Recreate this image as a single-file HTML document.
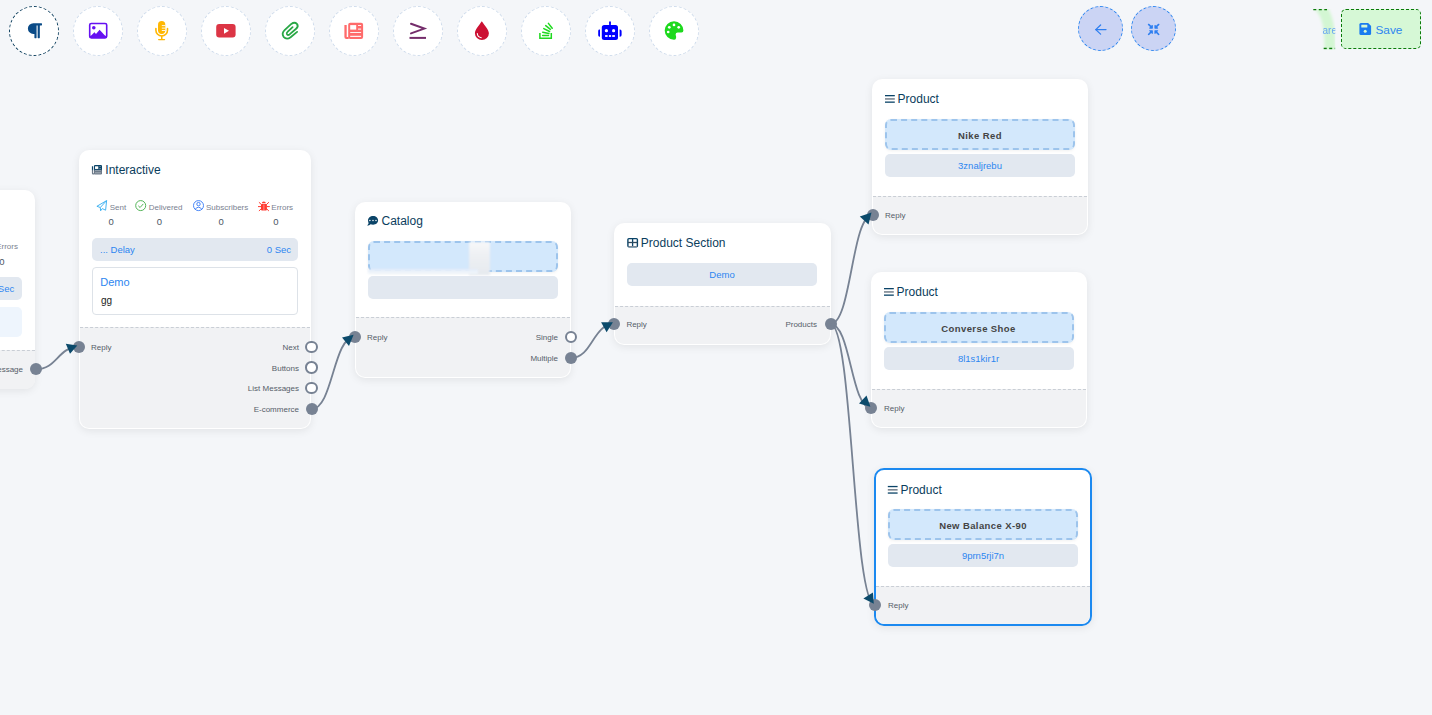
<!DOCTYPE html>
<html><head><meta charset="utf-8">
<style>
*{box-sizing:border-box;margin:0;padding:0}
html,body{width:1432px;height:715px;overflow:hidden;background:#f4f6f9;font-family:"Liberation Sans",sans-serif;position:relative}
.tb{position:absolute;top:6px;width:50px;height:50px;border-radius:50%;background:#fff;border:1px dashed #cfdcec}
.tb.act{border-color:#0b3d5c}
.cbtn{position:absolute;top:6px;width:45px;height:45px;border-radius:50%;background:#cbd4f4;border:1.5px dashed #2d86f0}
.save{position:absolute;left:1341px;top:9px;width:80px;height:40px;border:1.5px dashed #0a7a0a;border-radius:5px;background:#d6f8d6;color:#2d86f0;font-size:11.8px}
.save span{position:absolute;left:33.5px;top:12.5px;line-height:14px}
.node{position:absolute;background:#fff;border-radius:10px;box-shadow:0 2px 8px rgba(0,0,0,.08)}
.node .bot{position:absolute;left:0;right:0;bottom:0;background:#f1f2f4;border-top:1px dashed #c9ced5;border-radius:0 0 9px 9px}
.title{position:absolute;font-size:12px;color:#0b3d5c;white-space:nowrap;line-height:14px}
.pin{position:absolute;width:12px;height:12px;border-radius:50%;background:#778293;margin:-6px 0 0 -6px}
.pin.o{background:#fff;border:2px solid #778293;width:12.5px;height:12.5px;margin:-6.25px 0 0 -6.25px}
.lbl{position:absolute;font-size:8px;color:#555d68;white-space:nowrap;line-height:10px;margin-top:-4.2px}
.lbl.r{transform:translateX(-100%)}
.bar{position:absolute;background:#e2e8f0;border-radius:5px;color:#2d86f0;font-size:9.5px;display:flex;align-items:center;justify-content:center}
.pbox{position:absolute;background:#d3e8fc;border:2px dashed #9dc4ec;border-radius:6px;color:#444;font-size:9.5px;font-weight:bold;display:flex;align-items:center;justify-content:center;letter-spacing:.4px;padding-top:1px;box-shadow:0 1px 3px rgba(0,0,0,.06)}
.st{position:absolute;top:203px;font-size:8px;color:#7a8190;white-space:nowrap;line-height:9px}
.sv{position:absolute;top:216px;font-size:9.5px;color:#4b5563;width:20px;margin-left:-10px;text-align:center;line-height:11px}
svg.wires{position:absolute;left:0;top:0;pointer-events:none;overflow:visible}
</style></head><body>

<div class="tb act" style="left:9px"></div>
<div class="tb" style="left:73px"></div>
<div class="tb" style="left:137px"></div>
<div class="tb" style="left:201px"></div>
<div class="tb" style="left:265px"></div>
<div class="tb" style="left:329px"></div>
<div class="tb" style="left:393px"></div>
<div class="tb" style="left:457px"></div>
<div class="tb" style="left:521px"></div>
<div class="tb" style="left:585px"></div>
<div class="tb" style="left:649px"></div>

<div class="cbtn" style="left:1078px"></div>
<div class="cbtn" style="left:1131px"></div>
<svg style="position:absolute;left:1310px;top:5px" width="28" height="48" viewBox="1310 5 28 48">
<defs><filter id="bl" x="-50%" y="-50%" width="200%" height="200%"><feGaussianBlur stdDeviation="1.6"/></filter><clipPath id="cl"><rect x="1313" y="9" width="22.3" height="40.5"/></clipPath></defs>
<g clip-path="url(#cl)">
<path d="M1319 6 Q1331 16 1329.8 52" fill="none" stroke="#d3f6d3" stroke-width="11" filter="url(#bl)"/>
<line x1="1313.3" y1="9.6" x2="1327" y2="9.6" stroke="#0a7a0a" stroke-width="1.5" stroke-dasharray="3 2.5"/>
<line x1="1323.7" y1="48.6" x2="1335.3" y2="48.6" stroke="#0a7a0a" stroke-width="1.5" stroke-dasharray="3 2.5"/>
<text x="1322.5" y="34" font-family="Liberation Sans" font-size="10" fill="#5b9df5" opacity="0.9">are</text>
</g></svg>
<div class="save"><span>Save</span></div>

<!-- nodes -->
<div class="node" style="left:-200px;top:190px;width:235px;height:199px">
  <div class="bot" style="height:39px"></div>
  <div style="position:absolute;left:196.2px;top:52px;font-size:8px;color:#7a8190;line-height:9px">Errors</div>
  <div style="position:absolute;left:199.3px;top:66px;font-size:9.5px;color:#4b5563;line-height:11px">0</div>
  <div class="bar" style="left:143px;top:87px;width:78.5px;height:23px;justify-content:flex-end;padding-right:7.3px">0 Sec</div>
  <div style="position:absolute;left:143px;top:117px;width:79px;height:30px;background:#eef5fd;border-radius:5px"></div>
</div>

<div class="node" style="left:78.5px;top:149.5px;width:232px;height:279.5px;border:1px solid rgba(255,255,255,.5)">
  <div class="bot" style="height:101px"></div>
  <div class="title" style="left:25.8px;top:12.2px">Interactive</div>
  <div class="bar" style="left:12.5px;top:87.5px;width:206px;height:22.5px;justify-content:space-between;padding:0 7px 0 8px"><span>... Delay</span><span>0 Sec</span></div>
  <div style="position:absolute;left:12.5px;top:116.5px;width:206px;height:47.5px;border:1px solid #dde2e8;border-radius:4px">
    <div style="position:absolute;left:7.2px;top:8px;font-size:11px;color:#2d86f0;line-height:13px">Demo</div>
    <div style="position:absolute;left:8px;top:27px;font-size:10px;color:#222;line-height:12px">gg</div>
  </div>
</div>

<div class="node" style="left:354.5px;top:201.5px;width:216px;height:176px;border:1px solid rgba(255,255,255,.5)">
  <div class="bot" style="height:59.2px"></div>
  <div class="title" style="left:26px;top:11.6px">Catalog</div>
  <div class="pbox" style="left:12px;top:38.5px;width:190px;height:31px;border-style:dashed"></div>
  <div class="bar" style="left:12px;top:73.5px;width:190px;height:23px"></div>
  <div style="position:absolute;left:113px;top:39px;width:21px;height:33px;background:linear-gradient(#f7f8f9,#eef0f3 40%,#e6eaef);filter:blur(1.2px)"></div>
  <div style="position:absolute;left:12px;top:66px;width:110px;height:5px;background:linear-gradient(#e4eefa,#f3f6fa);filter:blur(0.8px)"></div>
</div>

<div class="node" style="left:614px;top:223px;width:216.5px;height:121.5px;border:1px solid rgba(255,255,255,.5)">
  <div class="bot" style="height:38px"></div>
  <div class="title" style="left:25.8px;top:12.2px">Product Section</div>
  <div class="bar" style="left:12px;top:39px;width:190px;height:23px">Demo</div>
</div>

<div class="node" style="left:872px;top:79px;width:216px;height:155.5px;border:1px solid rgba(255,255,255,.5);">
  <div class="bot" style="height:38px"></div>
  <div class="pbox" style="left:12px;top:39px;width:190px;height:31px">Nike Red</div>
  <div class="bar" style="left:12px;top:74px;width:190px;height:23px">3znaljrebu</div>
</div><div class="node" style="left:871px;top:272px;width:216px;height:156px;border:1px solid rgba(255,255,255,.5);">
  <div class="bot" style="height:38px"></div>
  <div class="pbox" style="left:11.5px;top:39px;width:190px;height:31px">Converse Shoe</div>
  <div class="bar" style="left:11.5px;top:74px;width:190px;height:23px">8l1s1kir1r</div>
</div><div class="node" style="left:874px;top:468px;width:218px;height:158px;border:2px solid #1b89f0;">
  <div class="bot" style="height:38px"></div>
  <div class="pbox" style="left:12px;top:39px;width:190px;height:31px">New Balance X-90</div>
  <div class="bar" style="left:12px;top:74px;width:190px;height:23px">9prn5rji7n</div>
</div>

<!-- stats -->
<div class="st" style="left:109.7px">Sent</div>
<div class="st" style="left:148.7px">Delivered</div>
<div class="st" style="left:206px">Subscribers</div>
<div class="st" style="left:271.3px">Errors</div>
<div class="sv" style="left:111.2px">0</div>
<div class="sv" style="left:159.4px">0</div>
<div class="sv" style="left:221.2px">0</div>
<div class="sv" style="left:275.8px">0</div>

<!-- titles -->
<div class="title" style="left:897.6px;top:92px">Product</div>
<div class="title" style="left:896.6px;top:285px">Product</div>
<div class="title" style="left:900.4px;top:483px">Product</div>

<!-- labels -->
<div class="lbl r" style="left:23px;top:369px">essage</div>
<div class="lbl" style="left:91px;top:347px">Reply</div>
<div class="lbl r" style="left:299px;top:347px">Next</div>
<div class="lbl r" style="left:299px;top:368px">Buttons</div>
<div class="lbl r" style="left:299px;top:388px">List Messages</div>
<div class="lbl r" style="left:299px;top:409px">E-commerce</div>
<div class="lbl" style="left:367px;top:337px">Reply</div>
<div class="lbl r" style="left:558px;top:337px">Single</div>
<div class="lbl r" style="left:558px;top:358px">Multiple</div>
<div class="lbl" style="left:626.4px;top:324px">Reply</div>
<div class="lbl r" style="left:817px;top:324px">Products</div>
<div class="lbl" style="left:885px;top:215px">Reply</div>
<div class="lbl" style="left:884px;top:408px">Reply</div>
<div class="lbl" style="left:888px;top:605px">Reply</div>

<!-- pins -->
<div class="pin" style="left:36px;top:369.2px"></div>
<div class="pin" style="left:78.9px;top:346.9px"></div>
<div class="pin o" style="left:311.5px;top:347px"></div>
<div class="pin o" style="left:311.5px;top:367.7px"></div>
<div class="pin o" style="left:311.5px;top:388.2px"></div>
<div class="pin" style="left:311.5px;top:409.1px"></div>
<div class="pin" style="left:354.5px;top:337px"></div>
<div class="pin o" style="left:570.9px;top:337px"></div>
<div class="pin" style="left:570.9px;top:357.9px"></div>
<div class="pin" style="left:614.2px;top:324px"></div>
<div class="pin" style="left:830.5px;top:324px"></div>
<div class="pin" style="left:872.5px;top:215px"></div>
<div class="pin" style="left:871.1px;top:407.9px"></div>
<div class="pin" style="left:875.2px;top:605.2px"></div>

<svg class="wires" width="1432" height="715">
<!-- paragraph -->
<svg x="26.8" y="22.2" width="15.2" height="17" viewBox="0 0 448 512" preserveAspectRatio="none"><path fill="#0a4b87" d="M448 48v32a16 16 0 0 1-16 16h-48v368a16 16 0 0 1-16 16h-32a16 16 0 0 1-16-16V96h-32v368a16 16 0 0 1-16 16h-32a16 16 0 0 1-16-16V352h-32a160 160 0 0 1 0-320h240a16 16 0 0 1 16 16z"/></svg>
<!-- image -->
<rect x="89.7" y="23.5" width="17" height="14.4" rx="1.6" fill="none" stroke="#6610f2" stroke-width="1.6"/>
<circle cx="93.8" cy="27.8" r="1.8" fill="#6610f2"/>
<polygon points="90.2,37 90.2,36.5 94.4,32.2 96,34 99.6,29.8 105.8,36.4 105.8,37" fill="#6610f2"/>
<rect x="89.7" y="35.8" width="17" height="2.2" fill="#6610f2"/>
<!-- mic -->
<rect x="158" y="21.1" width="7.3" height="12.9" rx="3.65" fill="#ffb703"/>
<g stroke="#fff" stroke-width="0.9"><line x1="161.8" y1="25.6" x2="165.5" y2="25.6"/><line x1="161.8" y1="28.1" x2="165.5" y2="28.1"/><line x1="161.8" y1="30.5" x2="165.5" y2="30.5"/></g>
<path d="M155.9 28.5 V30.2 A5.8 5.8 0 0 0 167.5 30.2 V28.5" fill="none" stroke="#ffb703" stroke-width="1.6" stroke-linecap="round"/>
<rect x="161" y="35.5" width="1.5" height="3.8" fill="#ffb703"/>
<rect x="158" y="38.9" width="7.2" height="1.4" rx="0.7" fill="#ffb703"/>
<!-- youtube -->
<rect x="216.2" y="24" width="19.4" height="13.6" rx="3" fill="#dc3545"/>
<polygon points="224,28 229,30.8 224,33.8" fill="#fff"/>
<!-- paperclip -->
<path d="M297.1 31.9 L290.6 37.2 Q286.6 40.2 283.6 36.8 Q281.3 33.4 284.6 30.2 L291.3 23.9 Q294.6 21.6 296.9 23.9 Q298.9 26.4 296.1 28.8 L289.6 34.4 Q287.7 35.7 286.9 34.2 Q286.3 33 287.8 31.6 L292.6 27.1" fill="none" stroke="#28a745" stroke-width="1.8" stroke-linecap="round"/>
<!-- newspaper -->
<rect x="348.2" y="22.7" width="14.9" height="16.2" rx="2" fill="#ff6b6b"/>
<path d="M344.4 24.9 h2.3 v12 h2 v2 h-2.3 a2 2 0 0 1 -2 -2 z" fill="#ff6b6b"/>
<g fill="#fff"><rect x="350.2" y="25.1" width="6" height="4.5"/><rect x="358" y="25.1" width="3.1" height="0.9"/><rect x="358" y="28.6" width="3.1" height="1"/><rect x="350.2" y="32" width="10.9" height="0.9"/><rect x="350.2" y="35.8" width="10.9" height="1.1"/></g>
<!-- >= -->
<polyline points="411,23.8 424.3,28.6 411,33.4" fill="none" stroke="#742d6b" stroke-width="2" stroke-linecap="round" stroke-linejoin="miter"/>
<rect x="409.5" y="36.9" width="16.5" height="2" fill="#742d6b"/>
<!-- drop -->
<path d="M481.8 21.2 C479 25.5 474.9 29.5 474.9 33.3 A7 6.6 0 0 0 488.9 33.3 C488.9 29.5 484.6 25.5 481.8 21.2 Z" fill="#cc1133"/>
<path d="M477.3 33.5 Q477.5 37 481.3 37.7" fill="none" stroke="#fff" stroke-width="1.1" stroke-linecap="round"/>
<!-- stackoverflow -->
<path d="M539.9 32.9 V38.2 H551.3 V32.9" fill="none" stroke="#1fd91f" stroke-width="1.5"/>
<g stroke="#1fd91f" stroke-width="1.5" stroke-linecap="round"><line x1="542.6" y1="35.5" x2="548.5" y2="35.5"/><line x1="542.7" y1="32.2" x2="548.9" y2="33.5"/><line x1="543.8" y1="28.6" x2="549.6" y2="31.5"/><line x1="545.7" y1="25.6" x2="550.4" y2="29.4"/><line x1="548.4" y1="23.4" x2="552.2" y2="28.3"/></g>
<!-- robot -->
<g fill="#0000ff"><rect x="609.1" y="21.3" width="1.8" height="4" rx="0.9"/><rect x="601.8" y="24.9" width="16.2" height="15.1" rx="2.5"/><path d="M600 29.6 v7.1 h-0.4 a1.4 1.4 0 0 1 -1.4 -1.4 v-4.3 a1.4 1.4 0 0 1 1.4 -1.4z"/><path d="M619.6 29.6 v7.1 h0.4 a1.6 1.6 0 0 0 1.6 -1.6 v-3.9 a1.6 1.6 0 0 0 -1.6 -1.6z"/></g>
<g fill="#fff"><circle cx="606.4" cy="30.7" r="1.6"/><circle cx="613.6" cy="30.7" r="1.6"/><rect x="605.1" y="35.1" width="2.5" height="1.8"/><rect x="608.9" y="35.1" width="2.2" height="1.8"/><rect x="612.2" y="35.1" width="2.7" height="1.8"/></g>
<!-- palette -->
<path d="M674 21.3 A9.45 9.25 0 0 1 683.4 30.5 Q683.4 32.5 681.5 32.5 L677.6 32.5 Q675.6 32.6 675.6 34.8 Q676.3 36.3 676.1 37.9 Q675.6 39.8 674 39.8 A9.3 9.25 0 0 1 674 21.3 Z" fill="#1dd91d"/>
<g fill="#fff"><circle cx="674" cy="24.9" r="1.35"/><circle cx="669.3" cy="27.3" r="1.35"/><circle cx="678.7" cy="27.3" r="1.35"/><circle cx="668.2" cy="32" r="1.35"/></g>
<!-- back arrow -->
<g fill="none" stroke="#2f7ff0" stroke-width="1.3" stroke-linecap="round" stroke-linejoin="round"><line x1="1095.8" y1="29.6" x2="1106" y2="29.6"/><polyline points="1100.6,25 1095.8,29.6 1100.6,34.1"/></g>
<!-- compress -->
<svg x="1147.6" y="23.4" width="12.1" height="12" viewBox="0 0 512 512"><path fill="#2f7ff0" d="M200 288H88c-21.4 0-32.1 25.8-17 41l32.9 31-99.2 99.3c-6.2 6.2-6.2 16.4 0 22.6l25.4 25.4c6.2 6.2 16.4 6.2 22.6 0L152 408l31.1 33c15.1 15.1 40.9 4.4 40.9-17V312c0-13.3-10.7-24-24-24zm112-64h112c21.4 0 32.1-25.9 17-41l-33-31 99.3-99.3c6.2-6.2 6.2-16.4 0-22.6L481.9 4.7c-6.2-6.2-16.4-6.2-22.6 0L360 104l-31.1-33C313.8 55.9 288 66.6 288 88v112c0 13.3 10.7 24 24 24zm96 136l33-31.1c15.1-15.1 4.4-40.9-17-40.9H312c-13.3 0-24 10.7-24 24v112c0 21.4 25.9 32.1 41 17l31-32.9 99.3 99.3c6.2 6.2 16.4 6.2 22.6 0l25.4-25.4c6.2-6.2 6.2-16.4 0-22.6L408 360zM183 71.1L152 104 52.7 4.7c-6.2-6.2-16.4-6.2-22.6 0L4.7 30.1c-6.2 6.2-6.2 16.4 0 22.6L104 152l-33 31.1C55.9 198.2 66.6 224 88 224h112c13.3 0 24-10.7 24-24V88c0-21.4-25.9-32.1-41-17z"/></svg>
<!-- floppy -->
<path d="M1359.4 24.5 a1.5 1.5 0 0 1 1.5 -1.5 h7.2 l3 3 v7.4 a1.5 1.5 0 0 1 -1.5 1.5 h-8.7 a1.5 1.5 0 0 1 -1.5 -1.5z" fill="#1a7cf0"/>
<rect x="1361.3" y="24.8" width="6" height="2.8" rx="0.3" fill="#d6f8d6"/>
<circle cx="1365.2" cy="31.2" r="1.5" fill="#d6f8d6"/>
</svg>

<svg class="wires" width="1432" height="715">
<defs><linearGradient id="duo" x1="0" y1="0" x2="0" y2="1"><stop offset="0.45" stop-color="#0b4468"/><stop offset="0.6" stop-color="#6f7c8c"/></linearGradient></defs>
<!-- interactive newspaper -->
<linearGradient id="npg" gradientUnits="userSpaceOnUse" x1="0" y1="22.7" x2="0" y2="38.9"><stop offset="0.45" stop-color="#0b4468"/><stop offset="0.62" stop-color="#6d7a89"/></linearGradient>
<g transform="translate(91.9,164.9) scale(0.54,0.586) translate(-344.4,-22.7)">
<rect x="348.2" y="22.7" width="14.9" height="16.2" rx="2" fill="url(#npg)"/>
<path d="M344.4 24.9 h2.3 v12 h2 v2 h-2.3 a2 2 0 0 1 -2 -2 z" fill="url(#npg)"/>
<g fill="#fff"><rect x="350.2" y="25.1" width="6" height="4.5"/><rect x="358" y="25.1" width="3.1" height="0.9" opacity=".6"/><rect x="358" y="28.6" width="3.1" height="1" opacity=".6"/><rect x="350.2" y="32" width="10.9" height="0.9" opacity=".6"/><rect x="350.2" y="35.8" width="10.9" height="1.1" opacity=".6"/></g>
</g>
<!-- catalog bubble -->
<path d="M373.1 215.9 C376 215.9 378.1 217.8 378.1 220.3 C378.1 222.8 376 224.7 373.1 224.7 C372.2 224.7 371.3 224.5 370.6 224.2 C369.8 224.9 368.5 225.6 367.1 225.6 C367.8 224.9 368.3 224.1 368.6 223.2 C368.3 222.3 368 221.3 368 220.3 C368 217.8 370.2 215.9 373.1 215.9 Z" fill="#0b4468"/>
<g fill="#fff"><circle cx="369.9" cy="220.4" r="0.75"/><circle cx="373" cy="220.4" r="0.75"/><circle cx="376" cy="220.4" r="0.75"/></g>
<!-- product section grid -->
<rect x="627.9" y="238.6" width="9.5" height="8.2" rx="1" fill="none" stroke="#0b4468" stroke-width="1.4"/>
<line x1="632.6" y1="238.6" x2="632.6" y2="246.8" stroke="#0b4468" stroke-width="1.3"/>
<line x1="627.9" y1="242.5" x2="637.4" y2="242.5" stroke="#304a5e" stroke-width="1.3"/>
<line x1="628.4" y1="246.5" x2="637" y2="246.5" stroke="#7b8694" stroke-width="1"/>
</svg>

<svg class="wires" width="1432" height="715"><rect x="885" y="95" width="9.8" height="1.3" fill="#0b4468"/><rect x="885" y="98.3" width="9.8" height="1.3" fill="#5d6a78"/><rect x="885" y="101.5" width="9.8" height="1.3" fill="#0b4468"/><rect x="884" y="288" width="9.8" height="1.3" fill="#0b4468"/><rect x="884" y="291.3" width="9.8" height="1.3" fill="#5d6a78"/><rect x="884" y="294.5" width="9.8" height="1.3" fill="#0b4468"/><rect x="887.8" y="485.9" width="9.8" height="1.3" fill="#0b4468"/><rect x="887.8" y="489.2" width="9.8" height="1.3" fill="#5d6a78"/><rect x="887.8" y="492.4" width="9.8" height="1.3" fill="#0b4468"/></svg>
<svg class="wires" width="1432" height="715">
<path d="M106.6 200.6 L96.9 206.3 L100.3 207.5 L100.6 210.8 L102.3 208.6 L105.6 210.2 Z M106.6 200.6 L100.3 207.5" fill="none" stroke="#3ab0f0" stroke-width="0.95" stroke-linejoin="round"/>
<circle cx="140.7" cy="205.6" r="5" fill="none" stroke="#4cb050" stroke-width="0.95"/>
<polyline points="138.3,205.8 140.1,207.5 143.3,203.9" fill="none" stroke="#4cb050" stroke-width="0.95"/>
<circle cx="198.5" cy="205.6" r="5" fill="none" stroke="#3d7ef5" stroke-width="0.95"/>
<circle cx="198.5" cy="204.1" r="1.7" fill="none" stroke="#3d7ef5" stroke-width="0.95"/>
<path d="M195.3 209.4 Q196.3 207.2 198.5 207.2 Q200.7 207.2 201.7 209.4" fill="none" stroke="#3d7ef5" stroke-width="0.95"/>
<g fill="#ff3b30"><path d="M261.8 203.3 A2 1.7 0 0 1 265.8 203.3 Z"/><rect x="261" y="204" width="5.9" height="6.6" rx="1"/></g>
<line x1="263.9" y1="204.5" x2="263.9" y2="210.6" stroke="#ffb0b8" stroke-width="0.7"/>
<g stroke="#ff3b30" stroke-width="1" stroke-linecap="round"><line x1="259.2" y1="202.5" x2="261.3" y2="204.5"/><line x1="268.6" y1="202.5" x2="266.5" y2="204.5"/><line x1="258.4" y1="206.6" x2="261" y2="206.6"/><line x1="269.4" y1="206.6" x2="266.9" y2="206.6"/><line x1="259.2" y1="210.7" x2="261.3" y2="208.7"/><line x1="268.6" y1="210.7" x2="266.5" y2="208.7"/></g>
</svg>
<svg class="wires" width="1432" height="715"><g fill="none" stroke="#778293" stroke-width="1.8"><path d="M 36 369.2 C 57.45 369.2 57.45 346.9 78.9 346.9"/><path d="M 311.5 409.1 C 333.0 409.1 333.0 337 354.5 337"/><path d="M 570.9 357.9 C 592.55 357.9 592.55 324 614.2 324"/><path d="M 830.5 324 C 851.5 324 851.5 215 872.5 215"/><path d="M 830.5 324 C 850.8 324 850.8 407.9 871.1 407.9"/><path d="M 830.5 324 C 852.85 324 852.85 605.2 875.2 605.2"/></g><g fill="#0b4a6b"><polygon points="65.8,343.8 77.3,345.4 70,353.8"/><polygon points="342,337.5 353.6,334.7 349,345.9"/><polygon points="601.1,322.2 612.9,322.2 606.6,332.2"/><polygon points="859.8,216.5 871.5,212.6 868.5,224.4"/><polygon points="866.5,395.6 859,403.4 870.4,406.8"/><polygon points="872.9,592.5 863.4,598.4 873.8,603.7"/></g></svg>
</body></html>
